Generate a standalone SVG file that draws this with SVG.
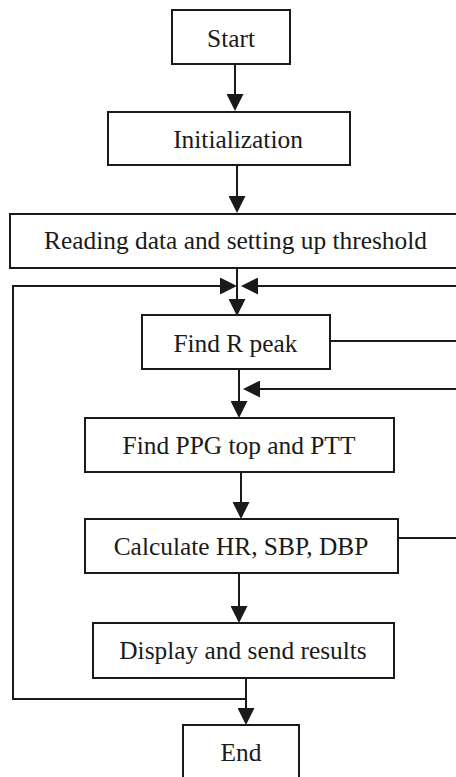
<svg xmlns="http://www.w3.org/2000/svg" width="456" height="777" viewBox="0 0 456 777">
  <style>
    .box { fill: #ffffff; stroke: #1a1a1a; stroke-width: 2; }
    .lbl { font-size: 25.4px; fill: #1a1a1a; text-anchor: middle; }
    .wire { fill: none; stroke: #1a1a1a; stroke-width: 2; }
    .arrow { marker-end: url(#head); }
  </style>
  <defs>
    <marker id="head" viewBox="0 0 17 17" refX="15" refY="8.5" markerWidth="17" markerHeight="17" markerUnits="userSpaceOnUse" orient="auto">
      <path d="M0,0 L17,8.5 L0,17 z" fill="#1a1a1a"/>
    </marker>
  </defs>
  <rect width="456" height="777" fill="#ffffff"/>

  <g id="connectors">
    <path class="wire arrow" d="M235,64 V109"/>
    <path class="wire arrow" d="M237,165 V211"/>
    <path class="wire arrow" d="M237,268 V314"/>
    <path class="wire arrow" d="M246,699 H13 V286 H235"/>
    <path class="wire arrow" d="M456,286 H243"/>
    <path class="wire" d="M330,341 H456"/>
    <path class="wire arrow" d="M456,389 H245"/>
    <path class="wire arrow" d="M239,369 V416"/>
    <path class="wire arrow" d="M241,472 V517"/>
    <path class="wire" d="M398,538 H456"/>
    <path class="wire arrow" d="M239,573 V621"/>
    <path class="wire arrow" d="M246,678 V723"/>
  </g>

  <g font-family="'Liberation Serif', Tinos, 'Times New Roman', 'DejaVu Serif', serif">
    <g id="start">
      <rect class="box" x="172" y="10" width="118" height="54"/>
      <text class="lbl" x="231" y="46.5">Start</text>
    </g>
    <g id="init">
      <rect class="box" x="108" y="112" width="242" height="53"/>
      <text class="lbl" x="238" y="148">Initialization</text>
    </g>
    <g id="reading">
      <rect class="box" x="10" y="214" width="452" height="54"/>
      <text class="lbl" x="235.5" y="249">Reading data and setting up threshold</text>
    </g>
    <g id="find-r-peak">
      <rect class="box" x="142" y="315" width="188" height="54"/>
      <text class="lbl" x="235.5" y="352">Find R peak</text>
    </g>
    <g id="find-ppg">
      <rect class="box" x="85" y="418" width="309" height="54"/>
      <text class="lbl" x="239" y="454">Find PPG top and PTT</text>
    </g>
    <g id="calculate">
      <rect class="box" x="85" y="519" width="313" height="54"/>
      <text class="lbl" x="241" y="555">Calculate HR, SBP, DBP</text>
    </g>
    <g id="display">
      <rect class="box" x="93" y="623" width="301" height="55"/>
      <text class="lbl" x="243" y="659">Display and send results</text>
    </g>
    <g id="end">
      <rect class="box" x="183" y="725" width="116" height="60"/>
      <text class="lbl" x="241" y="761">End</text>
    </g>
  </g>
</svg>
